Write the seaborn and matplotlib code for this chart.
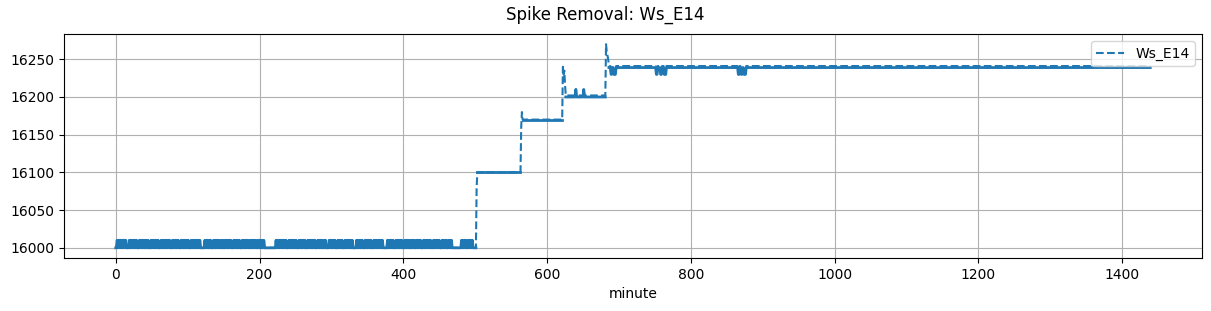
import numpy as np
import pandas as pd
import matplotlib
matplotlib.use("Agg")
import matplotlib.pyplot as plt
import seaborn as sns

# ---- data ----
n_minutes = 1440
level_starts = [0, 503, 566, 626, 686]
level_values_clean = [16000, 16100, 16170, 16200, 16239]
level_values_raw = [16000, 16100, 16170, 16202, 16241]

baseline_spikes = [
    2, 4, 5, 7, 9, 11, 12, 14, 19, 21, 23, 25, 27, 29, 33, 35, 37, 39, 41, 43, 45,
    49, 51, 53, 55, 57, 59, 63, 65, 67, 69, 71, 73, 75, 79, 81, 83, 85, 87,
    91, 93, 95, 97, 99, 101, 105, 107, 109, 111, 113, 115, 117,
    124, 126, 128, 130, 132, 136, 138, 140, 142, 144, 147, 149,
    152, 154, 156, 158, 160, 164, 166, 168, 170, 172, 176, 178, 180, 182, 184,
    187, 189, 191, 193, 195, 198, 200, 202, 204, 206,
    223, 225, 227, 229, 231, 233, 235, 237, 241, 243, 245, 247, 249, 251,
    255, 257, 259, 261, 263, 267, 269, 271, 273, 275, 277, 281, 283, 285, 287, 290, 292,
    297, 299, 301, 303, 305, 309, 311, 313, 315, 319, 321, 323, 325, 327, 329,
    335, 337, 339, 341, 343, 347, 349, 351, 353, 355, 359, 361, 363, 365, 367, 369, 371,
    378, 380, 382, 384, 386, 390, 392, 394, 396, 398, 402, 404, 406, 408, 411, 413, 415,
    418, 420, 422, 424, 428, 430, 432, 434, 436, 438, 442, 444, 446, 448, 450,
    454, 456, 458, 460, 463, 465, 467,
    481, 483, 485, 487, 490, 492, 494, 496,
]
baseline_spike_value = 16010

bump_minutes = [640, 651]
bump_value = 16210

dip_minutes = [689, 690, 693, 694, 695, 752, 753, 758, 759, 763, 764, 765,
               866, 867, 870, 871, 874, 875, 876]
dip_value = 16230

# transition spikes (present in raw only, removed in cleaned)
spike_minutes = [502, 564, 565, 622, 623, 624, 625, 682, 683, 684, 685]
spike_values = [16080, 16160, 16180, 16240, 16230, 16235, 16215, 16270, 16260, 16255, 16250]

# ---- build series ----
minute = np.arange(n_minutes)
raw = np.zeros(n_minutes)
clean = np.zeros(n_minutes)
bounds = level_starts + [n_minutes]
for i in range(len(level_starts)):
    raw[bounds[i]:bounds[i + 1]] = level_values_raw[i]
    clean[bounds[i]:bounds[i + 1]] = level_values_clean[i]
for m in baseline_spikes:
    raw[m] = baseline_spike_value
    clean[m] = baseline_spike_value
for m in bump_minutes:
    raw[m] = bump_value
    clean[m] = bump_value
for m in dip_minutes:
    raw[m] = dip_value
    clean[m] = dip_value
for m, v in zip(spike_minutes, spike_values):
    raw[m] = v
    clean[m] = np.nan

df_raw = pd.DataFrame({"minute": minute, "Ws_E14": raw})
df_clean = pd.DataFrame({"minute": minute, "Ws_E14": clean})
df_clean["segment"] = df_clean["Ws_E14"].isna().cumsum()
df_clean = df_clean.dropna()

# ---- plot ----
fig, ax = plt.subplots(figsize=(12.11, 3.11), dpi=100)
fig.subplots_adjust(left=64 / 1211, right=1202 / 1211, top=1 - 34 / 311, bottom=1 - 258 / 311)

sns.lineplot(data=df_raw, x="minute", y="Ws_E14", ax=ax, color="#1f77b4",
             linestyle="--", linewidth=1.5, label="Ws_E14", sort=False)
sns.lineplot(data=df_clean, x="minute", y="Ws_E14", units="segment", estimator=None,
             ax=ax, color="#1f77b4", linewidth=2.0, legend=False, sort=False)

ax.set_xlabel("minute")
ax.set_ylabel("")
ax.grid(True, color="#b0b0b0", linewidth=0.8)
ax.set_yticks([16000, 16050, 16100, 16150, 16200, 16250])
ax.legend(loc="upper right")
fig.suptitle("Spike Removal: Ws_E14", fontsize=12)

fig.savefig("out.png", dpi=100)
